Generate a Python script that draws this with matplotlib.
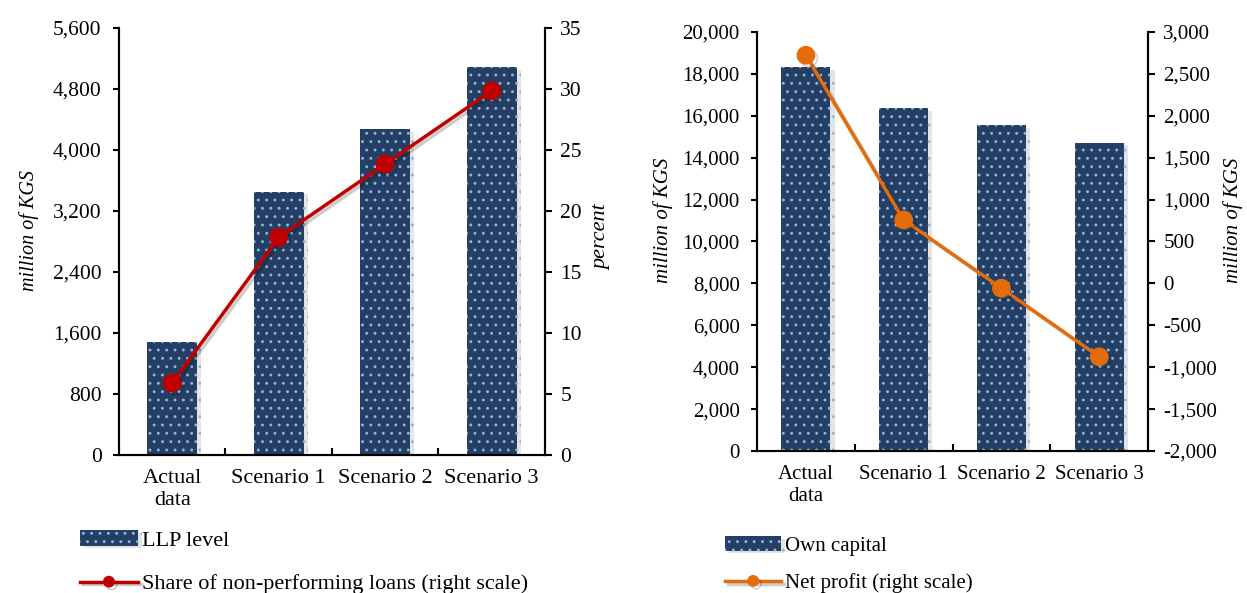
import matplotlib
matplotlib.use('Agg')
from matplotlib import pyplot as plt
from matplotlib import patheffects as pe
from matplotlib.ticker import FuncFormatter, FixedLocator

# chart data
categories = ['Actual\ndata', 'Scenario 1', 'Scenario 2', 'Scenario 3']
llp_level = [1480, 3455, 4275, 5085]
npl_share = [5.9, 17.85, 23.85, 29.85]
own_capital = [18310, 16350, 15550, 14720]
net_profit = [2722, 756, -58, -876]

left_ticks = [0, 800, 1600, 2400, 3200, 4000, 4800, 5600]
pct_ticks = [0, 5, 10, 15, 20, 25, 30, 35]
cap_ticks = [0, 2000, 4000, 6000, 8000, 10000, 12000, 14000, 16000, 18000, 20000]
profit_ticks = [-2000, -1500, -1000, -500, 0, 500, 1000, 1500, 2000, 2500, 3000]

plt.rcParams['font.family'] = ['Liberation Serif', 'DejaVu Serif']
plt.rcParams['font.size'] = 15
plt.rcParams['hatch.linewidth'] = 0.9

navy = '#243F63'
dots = '#8DB4E2'
red = '#C00000'
orange = '#E46C0A'

fig = plt.figure(figsize=(12.47, 5.93), dpi=100)
thousands = FuncFormatter(lambda v, p: f'{v:,.0f}')
bar_shadow = [pe.SimplePatchShadow(offset=(3, -2), shadow_rgbFace='#aaaaaa', alpha=0.3), pe.Normal()]
line_shadow = [pe.SimpleLineShadow(offset=(2, -2), alpha=0.2), pe.Normal()]


def style_axes(ax, ax2, xsize):
    for a in (ax, ax2):
        a.spines['top'].set_visible(False)
        for s in ('left', 'right', 'bottom'):
            a.spines[s].set_linewidth(1.5)
    ax.tick_params(axis='y', direction='out', length=4.5, width=1.5, pad=8)
    ax2.tick_params(axis='y', direction='out', length=5, width=1.5, pad=6)
    ax.tick_params(axis='x', which='major', length=0, pad=10)
    ax.xaxis.set_minor_locator(FixedLocator([0.5, 1.5, 2.5]))
    ax.tick_params(axis='x', which='minor', direction='in', length=5, width=1.5)
    ax.set_xlim(-0.5, 3.5)
    ax.set_xticks(range(len(categories)))
    ax.set_xticklabels(categories, multialignment='center', fontsize=xsize)
    ax.yaxis.set_major_formatter(thousands)
    ax2.yaxis.set_major_formatter(thousands)


# left chart
ax1 = fig.add_axes([0.0954, 0.2327, 0.3416, 0.7201])
ax1b = ax1.twinx()
b1 = ax1.bar(range(len(categories)), llp_level, width=0.47, color=navy,
             edgecolor=dots, linewidth=0, hatch='..', label='LLP level')
for p in b1:
    p.set_path_effects(bar_shadow)
l1, = ax1b.plot(range(len(categories)), npl_share, color=red, linewidth=2.5,
                marker='o', markersize=12.5, label='Share of non-performing loans (right scale)')
l1.set_path_effects(line_shadow)
ax1.set_ylim(0, 5600)
ax1.set_yticks(left_ticks)
ax1b.set_ylim(0, 35)
ax1b.set_yticks(pct_ticks)
style_axes(ax1, ax1b, 16)
ax1.tick_params(axis='y', labelsize=15.5)
ax1b.tick_params(axis='y', labelsize=15.5)
ax1.set_ylabel('million of KGS', style='italic', fontsize=14.5)
ax1.yaxis.set_label_coords(-0.187, 0.525)
ax1b.set_ylabel('percent', style='italic', fontsize=16)
ax1b.yaxis.set_label_coords(1.112, 0.51)
ax1b.yaxis.label.set_rotation(90)

leg1 = fig.legend(handles=[b1, l1], loc='upper left', bbox_to_anchor=(80 / 1247, 1 - 530 / 593),
                  frameon=False, borderpad=0, borderaxespad=0, handlelength=2.6,
                  handletextpad=0.2, labelspacing=1.05, markerscale=0.6, fontsize=16)

# right chart
ax2 = fig.add_axes([0.6071, 0.2395, 0.3136, 0.7066])
ax2b = ax2.twinx()
b2 = ax2.bar(range(len(categories)), own_capital, width=0.5, color=navy,
             edgecolor=dots, linewidth=0, hatch='..', label='Own capital')
for p in b2:
    p.set_path_effects(bar_shadow)
l2, = ax2b.plot(range(len(categories)), net_profit, color=orange, linewidth=2.5,
                marker='o', markersize=12.5, label='Net profit (right scale)')
l2.set_path_effects(line_shadow)
ax2.set_ylim(0, 20000)
ax2.set_yticks(cap_ticks)
ax2b.set_ylim(-2000, 3000)
ax2b.set_yticks(profit_ticks)
style_axes(ax2, ax2b, 15)
ax2.set_ylabel('million of KGS', style='italic')
ax2.yaxis.set_label_coords(-0.215, 0.55)
ax2b.set_ylabel('million of KGS', style='italic')
ax2b.yaxis.set_label_coords(1.192, 0.55)
ax2b.yaxis.label.set_rotation(90)

leg2 = fig.legend(handles=[b2, l2], loc='upper left', bbox_to_anchor=(725 / 1247, 1 - 536 / 593),
                  frameon=False, borderpad=0, borderaxespad=0, handlelength=2.7,
                  handletextpad=0.2, labelspacing=0.85, markerscale=0.6)

fig.savefig('out.png', dpi=100)
